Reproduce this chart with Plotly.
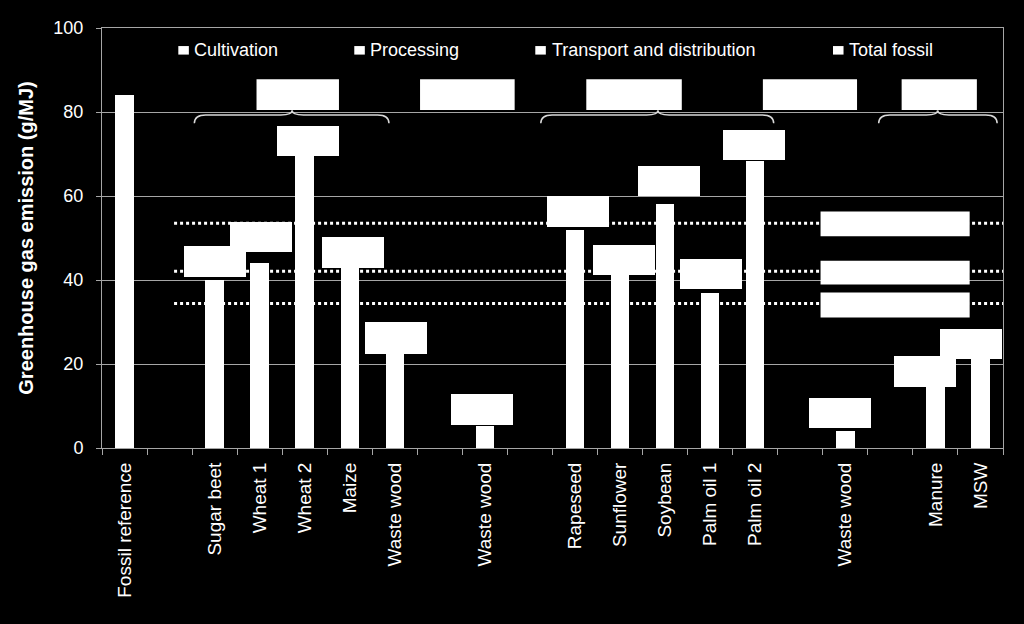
import plotly.graph_objects as go

# ---------------- data ----------------
categories = ["Fossil reference", "", "Sugar beet", "Wheat 1", "Wheat 2", "Maize",
              "Waste wood", "", "Waste wood", "", "Rapeseed", "Sunflower", "Soybean",
              "Palm oil 1", "Palm oil 2", "", "Waste wood", "", "Manure", "MSW"]
total_fossil = [84, None, 40, 44, 69.6, 43, 22.3, None, 5.2, None, 52, 41.1, 58.1,
                36.9, 68.4, None, 4.1, None, 15, 21.1]
box_low = [None, None, 40.7, 46.6, 69.6, 42.9, 22.3, None, 5.5, None, 52.7, 41.1, 59.9,
           37.9, 68.5, None, 4.7, None, 14.6, 21.3]
box_high = [None, None, 48.1, 53.9, 76.7, 50.2, 29.9, None, 12.8, None, 59.9, 48.4, 67.2,
            45.1, 75.7, None, 12.0, None, 21.9, 28.4]
box_shift = [0, 0, 0.0, 0.03, 0.07, 0.08, 0.03, 0, -0.07, 0, 0.06, 0.09, 0.08,
             0.01, -0.02, 0, -0.11, 0, -0.24, -0.22]
ref_levels = [53.5, 42.1, 34.4]
legend_names = ["Cultivation", "Processing", "Transport and distribution", "Total fossil"]
y_ticks = [0, 20, 40, 60, 80, 100]

# ---------------- figure ----------------
FONT = "Arial, Liberation Sans, sans-serif"
GRID = "#a6a6a6"
idx = list(range(len(categories)))

fig = go.Figure()
fig.add_trace(go.Bar(x=idx, y=total_fossil, width=0.41, marker=dict(color="white", line=dict(width=0)),
                     name="Total fossil", showlegend=False, hoverinfo="skip"))

bx, bb, bh = [], [], []
for i, lo, hi, s in zip(idx, box_low, box_high, box_shift):
    if lo is None:
        continue
    bx.append(i + s)
    bb.append(lo)
    bh.append(hi - lo)
fig.add_trace(go.Bar(x=bx, y=bh, base=bb, width=1.375, marker=dict(color="white", line=dict(width=0)),
                     showlegend=False, hoverinfo="skip"))

shapes = []
# dotted reference lines
for lv in ref_levels:
    shapes.append(dict(type="line", xref="x", yref="y", x0=1.1, x1=19.5, y0=lv, y1=lv,
                       line=dict(color="white", width=3, dash="3px,3px"), layer="between"))
# wide boxes on the right
for lo, hi in [(50.4, 56.3), (38.9, 44.6), (31.1, 37.0)]:
    shapes.append(dict(type="rect", xref="x", yref="y", x0=15.45, x1=18.76, y0=lo, y1=hi,
                       fillcolor="white", line=dict(width=0), layer="above"))
# group boxes at top
for x0, x1 in [(2.93, 4.76), (6.56, 8.66), (10.25, 12.37), (14.17, 16.26), (17.25, 18.92)]:
    shapes.append(dict(type="rect", xref="x", yref="y", x0=x0, x1=x1, y0=80.5, y1=87.8,
                       fillcolor="white", line=dict(width=0), layer="above"))
# curly braces
def brace(x0, xt, x1, y_end=77.3, y_mid=79.3, y_tip=80.4, dx=0.25):
    return (f"M{x0},{y_end} Q{x0},{y_mid} {x0+dx},{y_mid} L{xt-dx},{y_mid} "
            f"Q{xt},{y_mid} {xt},{y_tip} Q{xt},{y_mid} {xt+dx},{y_mid} "
            f"L{x1-dx},{y_mid} Q{x1},{y_mid} {x1},{y_end}")
for x0, xt, x1 in [(1.55, 3.72, 5.87), (9.24, 11.84, 14.41), (16.74, 18.05, 19.37)]:
    shapes.append(dict(type="path", xref="x", yref="y", path=brace(x0, xt, x1),
                       line=dict(color="#d9d9d9", width=1.5), layer="above"))

# legend (squares + text)
leg_sq = [0.0847, 0.2800, 0.4809, 0.8113]
leg_tx = [0.1002, 0.2956, 0.4976, 0.8269]
annotations = []
for name, sq, tx in zip(legend_names, leg_sq, leg_tx):
    shapes.append(dict(type="rect", xref="paper", yref="paper", x0=sq, x1=sq + 0.0117,
                       y0=0.9367, y1=0.957, fillcolor="white", line=dict(width=0)))
    annotations.append(dict(text=name, xref="paper", yref="paper", x=tx, y=0.948,
                            xanchor="left", yanchor="middle", showarrow=False,
                            font=dict(family=FONT, size=18, color="white")))

fig.update_layout(
    width=1024, height=624,
    margin=dict(l=102, r=21, t=28, b=176),
    paper_bgcolor="black", plot_bgcolor="black",
    barmode="overlay", bargap=0,
    showlegend=False,
    shapes=shapes, annotations=annotations,
    font=dict(family=FONT, color="white", size=18),
)
fig.update_xaxes(
    range=[-0.5, 19.5], tickmode="array", tickvals=idx, ticktext=categories,
    tickangle=-90, ticks="", showgrid=False, zeroline=False, ticklabelstandoff=6,
    showline=True, linecolor=GRID, linewidth=1, mirror=True,
    tickfont=dict(family=FONT, size=19, color="white"),
    minor=dict(tick0=-0.5, dtick=1, ticks="outside", ticklen=6, tickcolor=GRID, tickwidth=1, showgrid=False),
)
fig.update_yaxes(
    range=[0, 100], tickmode="array", tickvals=y_ticks,
    ticks="outside", ticklen=5, tickcolor=GRID, ticklabelstandoff=9,
    showgrid=True, gridcolor=GRID, gridwidth=1, zeroline=False,
    showline=True, linecolor=GRID, linewidth=1, mirror=True,
    tickfont=dict(family=FONT, size=18, color="white"),
    title=dict(text="<b>Greenhouse gas emission (g/MJ)</b>", standoff=14,
               font=dict(family=FONT, size=20, color="white")),
)

fig.write_html("out.html", config={"displayModeBar": False},
               post_script="document.body.style.margin='0';document.body.style.background='black';")
